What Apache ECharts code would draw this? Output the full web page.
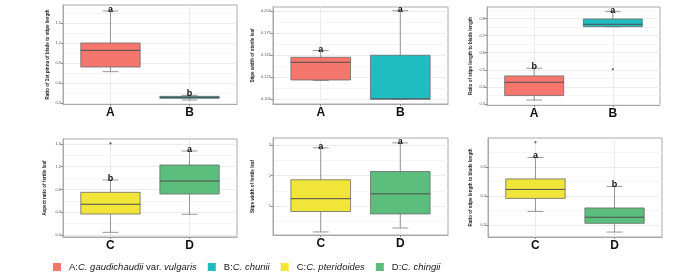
<!DOCTYPE html>
<html>
<head>
<meta charset="utf-8">
<script src="https://cdn.jsdelivr.net/npm/echarts@6/dist/echarts.min.js"></script>
<style>html,body{margin:0;padding:0;background:#fff}#main{width:700px;height:278px}</style>
</head>
<body>
<div id="main"></div>
<script>
var groupsTop = ['A', 'B'];
var groupsBottom = ['C', 'D'];
var colorsTop = ['#f4766d', '#1fbdc0'];
var colorsBottom = ['#f1e53a', '#5cbe7d'];

// each box: [lower whisker, Q1, median, Q3, upper whisker]
var pinnaRatioBoxes = [[0.77, 0.84, 1.09, 1.20, 1.68], [0.345, 0.37, 0.385, 0.40, 0.415]];
var pinnaRatioLetters = ['a', 'b'];
var pinnaRatioOutliers = [];
var pinnaRatioTicks = [0.3, 0.6, 0.9, 1.2, 1.5];

var sterileWidthBoxes = [[0.121, 0.1216, 0.1417, 0.1474, 0.155], [0.1, 0.1, 0.1, 0.1497, 0.2003]];
var sterileWidthLetters = ['a', 'a'];
var sterileWidthOutliers = [];
var sterileWidthTicks = [0.100, 0.125, 0.150, 0.175, 0.200];

var stipeBladeTopBoxes = [[0.323, 0.349, 0.427, 0.464, 0.509], [0.752, 0.752, 0.766, 0.797, 0.84]];
var stipeBladeTopLetters = ['b', 'a'];
var stipeBladeTopOutliers = [[2, 0.503]];
var stipeBladeTopTicks = [0.3, 0.4, 0.5, 0.6, 0.7, 0.8];

var aspectBoxes = [[0.047, 0.369, 0.54, 0.75, 0.967], [0.364, 0.72, 0.949, 1.23, 1.476]];
var aspectLetters = ['b', 'a'];
var aspectOutliers = [[1, 1.61]];
var aspectTicks = [0.0, 0.4, 0.8, 1.2, 1.6];

var fertileWidthBoxes = [[0.15, 0.82, 1.24, 1.86, 2.91], [0.28, 0.74, 1.40, 2.13, 3.07]];
var fertileWidthLetters = ['a', 'a'];
var fertileWidthOutliers = [];
var fertileWidthTicks = [1, 2, 3];

var stipeBladeBottomBoxes = [[0.347, 0.392, 0.423, 0.459, 0.533], [0.276, 0.306, 0.327, 0.359, 0.433]];
var stipeBladeBottomLetters = ['a', 'b'];
var stipeBladeBottomOutliers = [[1, 0.585]];
var stipeBladeBottomTicks = [0.3, 0.4, 0.5];

var legendNames = ['A', 'B', 'C', 'D'];
var legendLabels = [
    '{n|A:}{i|C. gaudichaudii}{n| var. }{i|vulgaris}',
    '{n|B:}{i|C. chunii}',
    '{n|C:}{i|C. pteridoides}',
    '{n|D:}{i|C. chingii}'
];

var panels = [
    {title: 'Ratio of 1st pinna of blade to stipe length', boxes: pinnaRatioBoxes, letters: pinnaRatioLetters,
     outliers: pinnaRatioOutliers, ticks: pinnaRatioTicks, groups: groupsTop, colors: colorsTop,
     min: 0.285, max: 1.77, dec: 1, grid: {left: 63, top: 5, width: 174, height: 99}, gap: 13},
    {title: 'Stipe width of sterile leaf', boxes: sterileWidthBoxes, letters: sterileWidthLetters,
     outliers: sterileWidthOutliers, ticks: sterileWidthTicks, groups: groupsTop, colors: colorsTop,
     min: 0.0943, max: 0.2045, dec: 3, grid: {left: 273, top: 7, width: 175, height: 97}, gap: 18},
    {title: 'Ratio of stipe length to blade length', boxes: stipeBladeTopBoxes, letters: stipeBladeTopLetters,
     outliers: stipeBladeTopOutliers, ticks: stipeBladeTopTicks, groups: groupsTop, colors: colorsTop,
     min: 0.294, max: 0.867, dec: 1, grid: {left: 487, top: 7, width: 173, height: 98}, gap: 14},
    {title: 'Aspect ratio of fertile leaf', boxes: aspectBoxes, letters: aspectLetters,
     outliers: aspectOutliers, ticks: aspectTicks, groups: groupsBottom, colors: colorsBottom,
     min: -0.035, max: 1.687, dec: 1, grid: {left: 63, top: 139, width: 174, height: 98}, gap: 16},
    {title: 'Stipe width of fertile leaf', boxes: fertileWidthBoxes, letters: fertileWidthLetters,
     outliers: fertileWidthOutliers, ticks: fertileWidthTicks, groups: groupsBottom, colors: colorsBottom,
     min: 0.05, max: 3.23, dec: 0, grid: {left: 273, top: 138, width: 175, height: 97}, gap: 18},
    {title: 'Ratio of stipe length to blade length', boxes: stipeBladeBottomBoxes, letters: stipeBladeBottomLetters,
     outliers: stipeBladeBottomOutliers, ticks: stipeBladeBottomTicks, groups: groupsBottom, colors: colorsBottom,
     min: 0.259, max: 0.6, dec: 1, grid: {left: 488, top: 138, width: 174, height: 99}, gap: 15}
];

function minorTicks(ticks, min, max) {
    var step = ticks.length > 1 ? ticks[1] - ticks[0] : 1;
    var out = [];
    for (var v = ticks[0] - step / 2; v <= max; v += step) {
        if (v >= min) out.push(+v.toFixed(6));
    }
    return out;
}

function renderBox(colors, letters) {
    return function (params, api) {
        var x = api.value(0);
        var lo = api.coord([x, api.value(1)]);
        var q1 = api.coord([x, api.value(2)]);
        var md = api.coord([x, api.value(3)]);
        var q3 = api.coord([x, api.value(4)]);
        var hi = api.coord([x, api.value(5)]);
        var half = api.size([0.75, 0])[0] / 2;
        var cap = api.size([0.2, 0])[0] / 2;
        var cx = lo[0];
        var wl = {stroke: '#7d7d7d', lineWidth: 0.8};
        return {
            type: 'group',
            children: [
                {type: 'line', shape: {x1: cx, y1: lo[1], x2: cx, y2: hi[1]}, style: wl},
                {type: 'line', shape: {x1: cx - cap, y1: lo[1], x2: cx + cap, y2: lo[1]}, style: wl},
                {type: 'line', shape: {x1: cx - cap, y1: hi[1], x2: cx + cap, y2: hi[1]}, style: wl},
                {type: 'rect', shape: {x: cx - half, y: q3[1], width: half * 2, height: Math.max(q1[1] - q3[1], 1)},
                 style: {fill: colors[params.dataIndex], stroke: '#6a6a6a', lineWidth: 0.8}},
                {type: 'line', shape: {x1: cx - half, y1: md[1], x2: cx + half, y2: md[1]},
                 style: {stroke: '#4f4f4f', lineWidth: 1}},
                {type: 'text', x: cx, y: hi[1] + 3,
                 style: {text: letters[params.dataIndex], fill: '#111', font: 'bold 9px "Liberation Sans", Arial',
                         align: 'center', verticalAlign: 'bottom'}}
            ]
        };
    };
}

var myChart = echarts.init(document.getElementById('main'));
var grids = [], xAxes = [], yAxes = [], series = [];

panels.forEach(function (p, i) {
    grids.push({left: p.grid.left, top: p.grid.top, width: p.grid.width, height: p.grid.height,
                show: true, borderColor: '#a9a9a9', borderWidth: 1, backgroundColor: 'transparent'});
    xAxes.push({
        type: 'value', gridIndex: i, min: 0.4, max: 2.6,
        axisLine: {show: true, onZero: false, lineStyle: {color: '#a9a9a9', width: 1}},
        axisTick: {show: true, length: 2, customValues: [1, 2], lineStyle: {color: '#888'}},
        axisLabel: {customValues: [1, 2], margin: 3, fontSize: 12, fontWeight: 'bold', color: '#111',
                    fontFamily: 'Liberation Sans',
                    formatter: (function (g) { return function (v) { return g[Math.round(v) - 1]; }; })(p.groups)},
        splitLine: {show: true, lineStyle: {color: '#ececec', width: 1}}
    });
    yAxes.push({
        type: 'value', gridIndex: i, min: p.min, max: p.max, position: 'left',
        name: p.title, nameLocation: 'middle', nameGap: p.gap, nameRotate: 90,
        nameTextStyle: {fontSize: 4.6, fontWeight: 'bold', color: '#222', fontFamily: 'Liberation Sans'},
        axisLine: {show: true, onZero: false, lineStyle: {color: '#a9a9a9', width: 1}},
        axisTick: {show: true, length: 2, customValues: p.ticks, lineStyle: {color: '#888'}},
        axisLabel: {customValues: p.ticks, margin: 2, fontSize: 4, color: '#555',
                    formatter: (function (d) { return function (v) { return v.toFixed(d); }; })(p.dec)},
        splitLine: {show: true, lineStyle: {color: '#ececec', width: 1}}
    });
    series.push({
        type: 'custom', xAxisIndex: i, yAxisIndex: i * 2,
        renderItem: renderBox(p.colors, p.letters),
        encode: {x: 0, y: [1, 2, 3, 4, 5]},
        data: p.boxes.map(function (b, k) { return [k + 1].concat(b); }),
        z: 3
    });
    if (p.outliers.length) {
        series.push({
            type: 'scatter', xAxisIndex: i, yAxisIndex: i * 2, symbolSize: 2.2,
            itemStyle: {color: '#333'}, data: p.outliers, z: 4
        });
    }
});

// minor grid lines on a hidden second y axis per panel
panels.forEach(function (p, i) {
    yAxes.splice(i * 2 + 1, 0, {
        type: 'value', gridIndex: i, min: p.min, max: p.max, position: 'left',
        axisLine: {show: false}, axisLabel: {show: false},
        axisTick: {show: false, customValues: minorTicks(p.ticks, p.min, p.max)},
        splitLine: {show: true, lineStyle: {color: '#f3f3f3', width: 0.8}}
    });
});

var legendColors = colorsTop.concat(colorsBottom);
legendNames.forEach(function (n, k) {
    series.push({type: 'line', name: n, xAxisIndex: 0, yAxisIndex: 0, data: [],
                 color: legendColors[k], itemStyle: {color: legendColors[k]}});
});

var option = {
    backgroundColor: '#fff',
    animation: false,
    grid: grids,
    xAxis: xAxes,
    yAxis: yAxes,
    legend: {
        data: legendNames, icon: 'rect', itemWidth: 8, itemHeight: 8, itemGap: 11,
        left: 48, top: 257,
        formatter: function (name) { return legendLabels[legendNames.indexOf(name)]; },
        textStyle: {
            color: '#1a1a1a', fontSize: 9.5, fontFamily: 'Liberation Sans', padding: [0, 0, 0, 3],
            rich: {
                n: {fontSize: 9.5, color: '#1a1a1a', fontFamily: 'Liberation Sans'},
                i: {fontSize: 9.5, color: '#1a1a1a', fontStyle: 'italic', fontFamily: 'Liberation Sans'}
            }
        }
    },
    series: series
};
myChart.setOption(option);
</script>
</body>
</html>
